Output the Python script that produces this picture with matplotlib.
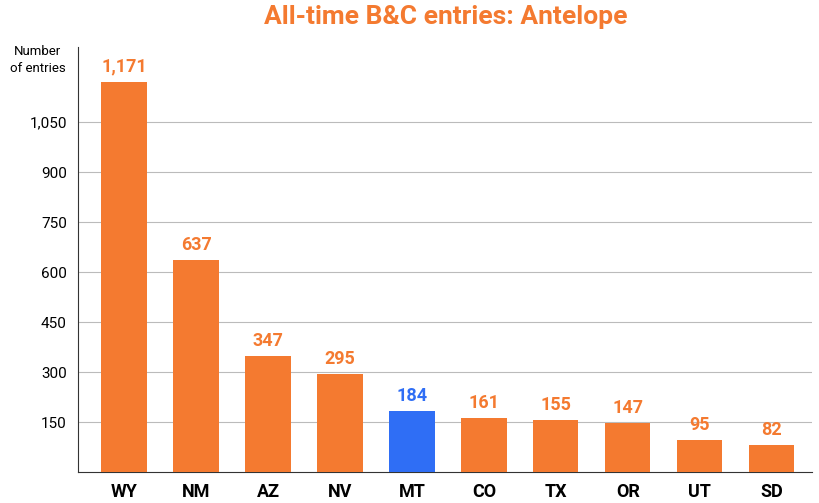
import matplotlib
matplotlib.use("Agg")
import matplotlib.pyplot as plt

states = ["WY", "NM", "AZ", "NV", "MT", "CO", "TX", "OR", "UT", "SD"]
entries = [1171, 637, 347, 295, 184, 161, 155, 147, 95, 82]
highlight = "MT"
yticks = [150, 300, 450, 600, 750, 900, 1050]

orange = "#F47A30"
blue = "#2F6EF5"
colors = [blue if s == highlight else orange for s in states]

fig = plt.figure(figsize=(8.2, 5.03), dpi=100)
ax = fig.add_axes([78/820, (503-472)/503, (812-78)/820, (472-47)/503])
x = range(len(states))
ax.bar(x, entries, width=0.63, color=colors, zorder=3)
for i, v in enumerate(entries):
    ax.text(i, v + 18, f"{v:,}", ha="center", va="bottom", fontsize=13,
            fontweight="bold", color=colors[i], family="Roboto")
ax.set_ylim(0, 1275)
ax.set_xlim(-0.64, len(states) - 0.44)
ax.set_yticks(yticks)
ax.set_yticklabels([f"{t:,}" for t in yticks], fontsize=11, family="Roboto")
ax.set_xticks(list(x))
ax.set_xticklabels(states, fontsize=13, fontweight="bold", family="Roboto")
ax.tick_params(axis="both", length=0, pad=8)
ax.grid(axis="y", color="#bbbbbb", linewidth=0.8, zorder=0)
for sp in ["top", "right"]:
    ax.spines[sp].set_visible(False)
ax.spines["left"].set_color("#333333")
ax.spines["bottom"].set_color("#333333")
fig.text(38/820, 1 - 60/503, "Number\nof entries", ha="center", va="center",
         fontsize=9.5, family="Roboto", linespacing=1.4)
fig.text(446/820, 1 - 17/503, "All-time B&C entries: Antelope", ha="center",
         va="center", fontsize=19, fontweight="bold", color=orange,
         family="Roboto", fontstretch="condensed")
fig.savefig("out.png", dpi=100)
